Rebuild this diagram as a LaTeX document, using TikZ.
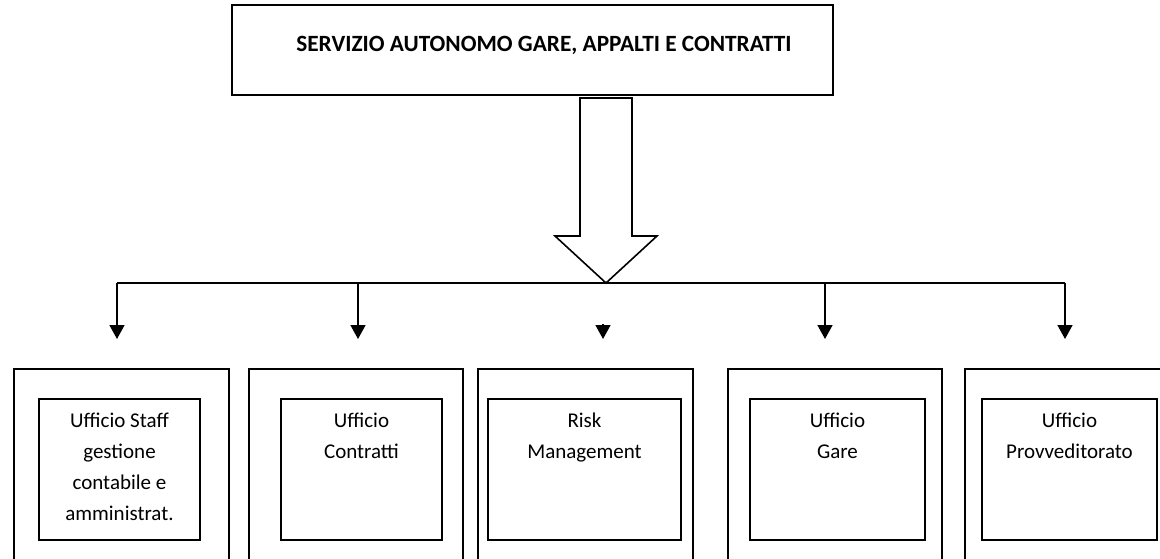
\documentclass[tikz,border=0pt]{standalone}
\usepackage{fontspec}
\setmainfont{Carlito}
\usetikzlibrary{positioning,arrows.meta}

\begin{document}
\begin{tikzpicture}[x=1pt,y=-1pt,
  box/.style={draw, line width=1.6pt, inner sep=0pt},
  dept/.style={box, anchor=north, minimum height=220pt},
  office/.style={box, anchor=north, minimum height=141pt},
  officetxt/.style={align=center, inner sep=0pt, font=\fontsize{21}{31}\selectfont},
  branch/.style={line width=1.6pt, -{Triangle[length=14pt,width=15pt]}}]

\useasboundingbox (0,0) rectangle (1160,559);
\clip (0,0) rectangle (1160,559);

\node [box, minimum width=601pt, minimum height=90pt] (top) at (532.5,50) {};
\node [font=\fontsize{23.3}{28}\selectfont\bfseries] (toptxt) at (544,45) {SERVIZIO AUTONOMO GARE, APPALTI E CONTRATTI};

\coordinate (bus) at (606,283);
\draw [line width=1.6pt] (bus) -- ++(51,-47) -- ++(-25,0) -- ++(0,-138) -- ++(-52,0) -- ++(0,138) -- ++(-25,0) -- cycle;
\draw [line width=1.6pt] (117,283) -- (1065,283);

\coordinate (t1) at (117,339);
\coordinate (t2) at (358,339);
\coordinate (h3) at (603,324);
\coordinate (t3) at (603,339);
\coordinate (t4) at (825,339);
\coordinate (t5) at (1065,339);
\draw [branch] (t1 |- bus) -- (t1);
\draw [branch] (t2 |- bus) -- (t2);
\draw [branch] (h3) -- (t3);
\draw [branch] (t4 |- bus) -- (t4);
\draw [branch] (t5 |- bus) -- (t5);

\node [dept, minimum width=215pt] (staffdept) at (121.5,368) {};
\node [dept, minimum width=214pt] (contrdept) at (356,368) {};
\node [dept, minimum width=215pt] (riskdept) at (585.5,368) {};
\node [dept, minimum width=214pt] (garedept) at (835,368) {};
\node [dept, minimum width=215pt] (provdept) at (1072.5,368) {};

\node [office, minimum width=161pt] (staff) at (119.5,398) {};
\node [office, minimum width=161pt] (contr) at (361.5,398) {};
\node [office, minimum width=193pt] (risk) at (584.5,398) {};
\node [office, minimum width=175pt] (gare) at (837.5,398) {};
\node [office, minimum width=175pt] (prov) at (1069.5,398) {};

\node [officetxt, below=15pt of staff.north] (stafftxt) {Ufficio Staff\\gestione\\contabile e\\amministrat.};
\node [officetxt, below=15pt of contr.north] (contrtxt) {Ufficio\\Contratti};
\node [officetxt, below=15pt of risk.north] (risktxt) {Risk\\Management};
\node [officetxt, below=15pt of gare.north] (garetxt) {Ufficio\\Gare};
\node [officetxt, below=15pt of prov.north] (provtxt) {Ufficio\\Provveditorato};

\end{tikzpicture}
\end{document}
